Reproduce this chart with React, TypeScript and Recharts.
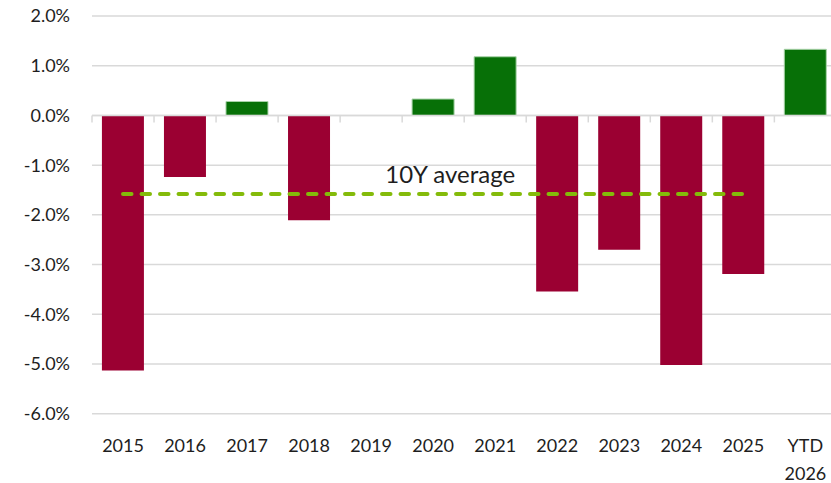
import React from 'react';
import {
  ComposedChart,
  Bar,
  Line,
  XAxis,
  YAxis,
  CartesianGrid,
  ReferenceLine,
  ReferenceDot,
  Cell,
} from 'recharts';

const categories = ['2015', '2016', '2017', '2018', '2019', '2020', '2021', '2022', '2023', '2024', '2025', 'YTD 2026'];
const returns = [-5.13, -1.24, 0.28, -2.11, 0, 0.33, 1.18, -3.54, -2.7, -5.02, -3.19, 1.33];
const averageValue = -1.58;
const averageLabel = '10Y average';
const averageLabelCategory = '2020';
const yTicks = [-6, -5, -4, -3, -2, -1, 0, 1, 2];

const POS = '#077007';
const NEG = '#9B0032';
const AVG = '#84BB0A';
const GRID = '#d9d9d9';
const TEXT = '#1e1e1e';
const FONT = 'Lato, "Open Sans", sans-serif';

const data = categories.map((c, i) => ({
  cat: c,
  value: returns[i],
  avg: c.startsWith('YTD') ? null : averageValue,
}));

const XTick = (props: any) => {
  const { x, y, payload } = props;
  const parts = String(payload.value).split(' ');
  return (
    <g>
      {parts.map((p: string, i: number) => (
        <text key={i} x={x} y={y + 38.3 + i * 28} textAnchor="middle" fontSize={18} fill={TEXT} fontFamily={FONT}>
          {p}
        </text>
      ))}
    </g>
  );
};

const ZeroAxis = (props: any) => {
  const { x1, x2, y1 } = props;
  const n = categories.length;
  const step = (x2 - x1) / n;
  const ticks = [];
  for (let i = 0; i <= n; i++) {
    const tx = x1 + i * step;
    ticks.push(<line key={i} x1={tx} x2={tx} y1={y1} y2={y1 + 7} stroke={GRID} strokeWidth={1.5} />);
  }
  return (
    <g>
      <line x1={x1} x2={x2} y1={y1} y2={y1} stroke={GRID} strokeWidth={1.5} />
      {ticks}
    </g>
  );
};

const AvgLabel = (props: any) => {
  const vb = props.viewBox || {};
  const cx = vb.x + (vb.width || 0) / 2;
  const cy = vb.y + (vb.height || 0) / 2;
  return (
    <text x={cx + 17} y={cy - 11} textAnchor="middle" fontSize={24} fill={TEXT} fontFamily={FONT}>
      {averageLabel}
    </text>
  );
};

export default function App() {
  return (
    <div
      style={{
        position: 'fixed',
        left: 0,
        top: 0,
        width: 831,
        height: 483,
        overflow: 'hidden',
        background: '#fff',
      }}
    >
      <ComposedChart
        width={846}
        height={483}
        data={data}
        margin={{ top: 16, right: 9.6, left: 8, bottom: 0 }}
        barCategoryGap="16%"
        style={{ fontFamily: FONT }}
      >
        <CartesianGrid vertical={false} stroke={GRID} strokeWidth={1.5} />
        <XAxis
          dataKey="cat"
          axisLine={false}
          tickLine={false}
          tickSize={0}
          tickMargin={0}
          height={69.3}
          interval={0}
          tick={<XTick />}
        />
        <YAxis
          domain={[-6, 2]}
          ticks={yTicks}
          width={84}
          axisLine={false}
          tickLine={false}
          tickSize={0}
          tickMargin={22}
          tickFormatter={(v: number) => `${v.toFixed(1)}%`}
          tick={{ fontSize: 18, fill: TEXT, fontFamily: FONT }}
          allowDataOverflow
        />
        <Bar dataKey="value" isAnimationActive={false}>
          {data.map((d, i) => (
            <Cell
              key={i}
              fill={d.value >= 0 ? POS : NEG}
              stroke={d.value > 0 ? '#a8d3a8' : 'none'}
              strokeWidth={d.value > 0 ? 1 : 0}
            />
          ))}
        </Bar>
        <ReferenceLine y={0} shape={<ZeroAxis />} />
        <Line
          dataKey="avg"
          stroke={AVG}
          strokeWidth={4}
          strokeDasharray="8.5 10"
          strokeLinecap="round"
          dot={false}
          activeDot={false}
          isAnimationActive={false}
          connectNulls={false}
        />
        <ReferenceDot
          x={averageLabelCategory}
          y={averageValue}
          r={0}
          fill="none"
          stroke="none"
          label={<AvgLabel />}
        />
      </ComposedChart>
    </div>
  );
}
